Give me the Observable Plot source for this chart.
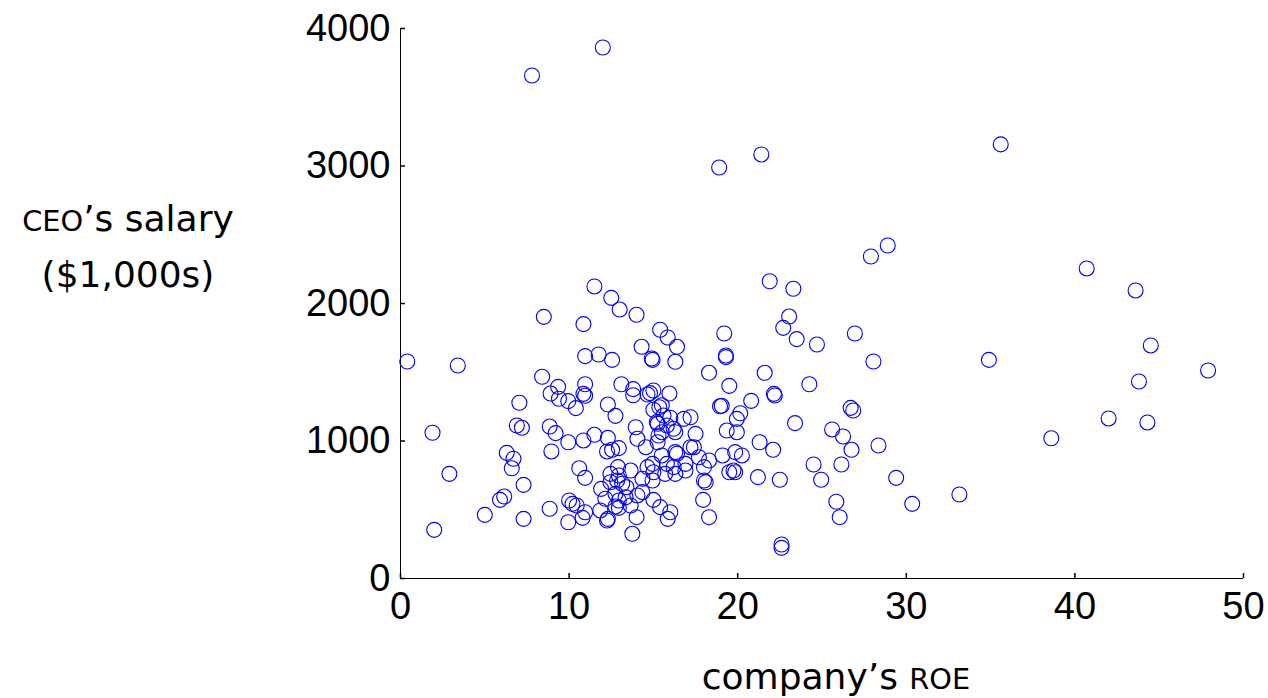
<!DOCTYPE html>
<html>
<head>
<meta charset="utf-8">
<script src="https://cdn.jsdelivr.net/npm/d3@7"></script>
<script src="https://cdn.jsdelivr.net/npm/@observablehq/plot@0.6"></script>
<style>
  html, body { margin: 0; padding: 0; background: #fff; }
  #wrap { position: relative; width: 1268px; height: 698px; }
  .lab { position: absolute; font-family: "DejaVu Sans", sans-serif; color: #000; white-space: nowrap; }
  .sc { font-size: 0.8em; }
</style>
</head>
<body>
<div id="wrap"></div>
<script>
// company's ROE (%)
const roe = [
  12.0, 7.8, 18.9, 21.4, 35.6, 28.9, 27.9, 40.7, 43.6, 21.9, 23.3, 11.5,
  0.4, 3.4, 1.9, 2.9, 2.0,
  12.5, 13.0, 14.0, 8.5, 10.85, 15.4, 15.85, 16.4, 19.2, 14.3, 10.95, 11.75, 12.55, 14.9, 14.95, 16.3, 19.3, 19.3, 18.3, 21.6,
  8.4, 9.35, 8.9, 9.4, 9.95, 10.4, 10.95, 10.85, 10.95, 13.1, 13.8, 13.8, 15.0, 14.8, 14.65, 15.95, 7.05, 12.3, 12.75,
  15.0, 15.35, 15.5, 19.5, 18.95, 19.05, 20.8, 20.15, 15.6, 16.0, 16.8, 17.2, 15.2, 19.95,
  6.9, 7.2, 8.85, 9.2, 9.95, 10.85, 11.5, 12.3, 12.25, 12.55, 12.95, 8.95, 6.3, 6.7, 6.6, 7.3, 5.9, 6.15, 5.0, 7.3,
  8.85, 10.0, 10.2, 10.45, 10.95, 10.8, 9.95, 10.6, 10.95, 11.85, 12.25, 12.3, 11.9, 12.45, 12.85, 13.15, 12.15, 12.75,
  12.95, 12.75, 12.95, 12.9, 12.45, 12.95, 13.4, 13.65, 13.35, 13.65, 14.0, 13.75, 14.05, 14.35, 14.35, 14.65, 14.95,
  15.0, 14.95, 15.0, 15.4, 16.0, 15.85, 13.95, 14.05, 14.55, 15.25, 15.3, 15.5, 15.25, 15.8, 16.2, 16.3, 15.5, 15.8,
  16.2, 16.3, 15.7, 16.3, 16.4, 16.9, 16.9, 17.2, 17.4, 17.5, 17.7, 18.0, 18.0, 18.1, 17.95, 18.3, 18.3, 19.1, 19.35,
  19.95, 19.85, 20.25, 19.5, 19.75, 19.85, 21.3, 21.2, 22.1,
  23.05, 22.7, 23.5, 24.7, 26.95, 28.05, 34.9, 24.25, 22.15, 22.2, 26.7, 26.85, 23.4,
  25.6, 26.25, 26.75, 28.35, 24.5, 26.15, 22.5, 24.95, 29.4, 25.85, 26.05, 30.35, 33.15, 38.6, 22.6, 22.6,
  44.5, 43.8, 47.9, 42.0, 44.3
];
// CEO's salary ($1,000s)
const salary = [
  3862, 3658, 2989, 3084, 3157, 2422, 2342, 2255, 2095, 2162, 2107, 2124,
  1578, 1549, 1060, 761, 354,
  2041, 1956, 1918, 1903, 1850, 1809, 1753, 1685, 1782, 1685, 1617, 1629, 1590, 1600, 1590, 1576, 1622, 1610, 1496, 1496,
  1467, 1394, 1345, 1307, 1290, 1239, 1413, 1343, 1329, 1413, 1377, 1333, 1367, 1348, 1338, 1345, 1278, 1265, 1183,
  1227, 1246, 1260, 1401, 1253, 1256, 1292, 1202, 1185, 1169, 1161, 1173, 1137, 1161,
  1113, 1096, 1105, 1057, 991, 1004, 1045, 1023, 924, 936, 948, 924, 914, 871, 802, 681, 572, 596, 463, 434,
  507, 567, 543, 531, 482, 441, 409, 802, 732, 495, 422, 434, 652, 700, 713, 689, 580, 616,
  567, 524, 514, 810, 761, 749, 664, 785, 591, 531, 446, 325, 604, 628, 725, 810, 834,
  773, 713, 572, 519, 482, 434, 1100, 1016, 955, 991, 1040, 1064, 1125, 1113, 1089, 1064, 895, 834,
  810, 761, 761, 919, 907, 834, 785, 955, 955, 1052, 882, 810, 713, 700, 572, 446, 858, 895, 1076,
  1064, 919, 895, 773, 785, 773, 991, 737, 936,
  1905, 1823, 1741, 1702, 1782, 1578, 1590, 1413, 1343, 1331, 1241, 1222, 1130,
  1084, 1033, 936, 967, 829, 829, 718, 718, 732, 558, 446, 543, 611, 1020, 247, 223,
  1695, 1433, 1513, 1164, 1135
];
const xTicks = [0, 10, 20, 30, 40, 50];
const yTicks = [0, 1000, 2000, 3000, 4000];
const xLabel = "company’s ";
const xLabelSmall = "ROE";
const yLabelSmall = "CEO";
const yLabel1 = "’s salary";
const yLabel2 = "($1,000s)";

const data = roe.map((r, i) => ({roe: r, salary: salary[i]}));
const fmt = d => String(d);

const chart = Plot.plot({
  width: 1268,
  height: 698,
  marginLeft: 400,
  marginRight: 25,
  marginTop: 28,
  marginBottom: 120,
  style: {background: "#fff", color: "#000", fontFamily: "'Liberation Sans', Arial, sans-serif"},
  x: {domain: [0, 50]},
  y: {domain: [0, 4000]},
  marks: [
    Plot.ruleX([0], {stroke: "#000", strokeWidth: 1}),
    Plot.ruleY([0], {stroke: "#000", strokeWidth: 1}),
    // labels
    Plot.axisX({ticks: xTicks, tickSize: 0, tickPadding: 14, fontSize: 38, label: null, tickFormat: fmt}),
    Plot.axisY({ticks: yTicks, tickSize: 0, tickPadding: 10, fontSize: 38, label: null, tickFormat: fmt}),
    // inward tick marks
    Plot.axisX({ticks: xTicks, tickSize: 5, dy: -5, label: null, tickFormat: () => "", stroke: "#000", strokeWidth: 1.5}),
    Plot.axisY({ticks: yTicks, tickSize: 5, dx: 5, label: null, tickFormat: () => "", stroke: "#000", strokeWidth: 1.5}),
    Plot.dot(data, {x: "roe", y: "salary", r: 7.5, stroke: "#0000ff", fill: "none", strokeWidth: 1.1})
  ]
});

const wrap = document.getElementById("wrap");
wrap.appendChild(chart);

const yl = document.createElement("div");
yl.className = "lab";
yl.style.cssText = "left:0;width:256px;top:192px;font-size:36px;text-align:center;line-height:54px;";
yl.innerHTML = `<span class="sc">${yLabelSmall}</span>${yLabel1}<br>${yLabel2}`;
wrap.appendChild(yl);

const xl = document.createElement("div");
xl.className = "lab";
xl.style.cssText = "left:0;width:1672px;top:656px;font-size:36px;text-align:center;";
xl.innerHTML = `${xLabel}<span class="sc">${xLabelSmall}</span>`;
wrap.appendChild(xl);
</script>
</body>
</html>
